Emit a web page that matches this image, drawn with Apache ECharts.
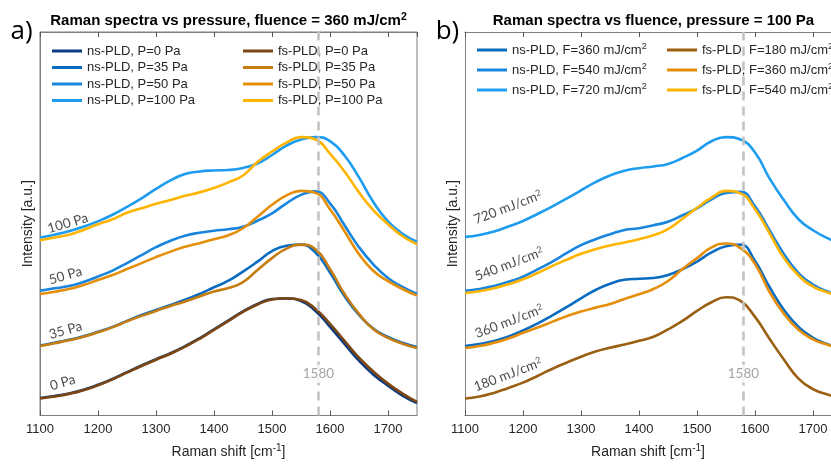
<!DOCTYPE html>
<html>
<head>
<meta charset="utf-8">
<script src="https://cdn.jsdelivr.net/npm/echarts@6/dist/echarts.min.js"></script>
<style>html,body{margin:0;padding:0;background:#fff}#main{width:831px;height:464px}</style>
</head>
<body>
<div id="main"></div>
<script>
// Raman shift sample points (cm-1), shared by every spectrum
var shift = [1100,1125,1150,1175,1200,1225,1250,1275,1300,1325,1350,1375,1400,1425,
             1450,1475,1500,1525,1550,1575,1600,1625,1650,1675,1700,1725,1750];

// panel a: fluence 360 mJ/cm2, different pressures (offset intensities, a.u.)
var nsP0   = [17.5,19.5,22,25.8,30.8,36.8,43.5,50.2,56.5,62.5,69.5,77.5,86.5,95.5,104.5,112,117,117.5,115,105,89,72,55,41,30,20,12.5];
var nsP35  = [70.3,73,76,79.5,84,89,95,101,106,111,116.3,122,128.7,135.3,144.5,154.5,165,170.5,171.5,163.5,143.5,120,101,87,79,73,68.7];
var nsP50  = [125.3,127.7,130,134,139.5,145.5,153,161,169,175.5,180.5,183.5,185.5,187,189.5,195.5,203,213,221.5,225,213,191,169,151.5,138,129,122];
var nsP100 = [178.7,181.5,185,189.5,195,201.5,209.5,218,227.5,236,242.5,245,246,246.5,248.5,253,261.5,271,277,279.5,275.5,261,239,214,195,182.5,174.5];
var fsP0   = [17,19,21.7,25.3,30.3,36.3,43,49.7,56,62,69,77,86,95,104,111.5,116.5,117.7,116,107,92,75,58,44,32,22,13.7];
var fsP35  = [69.7,72.5,75.5,79,83.5,88.5,94.5,100,105,110,114.5,119.5,124.5,128,134,146,158,167.5,171.5,167,147,122,102,86.5,78,72,67.7];
var fsP50  = [122,124.3,127,131,136,141,147,153,159,164.5,169.5,173,177,181,188,199.5,211.5,221,225.5,223.5,207,185,162,145,135,127,120.3];
var fsP100 = [176,178.7,181.5,186.3,192,197,203.5,208,212.5,216.3,220.5,224,228.5,234,241,254.5,265,274,279.5,277,263,245,224,206,192,180,172];

// panel b: pressure 100 Pa, different fluences
var nsF360 = [69.7,71.7,74.7,79.3,85.3,92.3,100.3,108.7,117.7,126,132.3,136.3,137.3,138,141,147,154.5,163.7,170,171.5,155,129,106,89,78,71.5,67];
var nsF540 = [125.3,127,130,134.3,139.3,146.7,154.3,163,171,177,182,186.3,188,191,194.5,201,208,217,223.5,224.5,210,186,162,143,131.5,124.5,120];
var nsF720 = [179.3,181.3,184.7,189.7,195.3,202.3,209.7,217.7,226,234.3,241,245.7,248.3,250,252.5,258.5,266,275.3,279.5,277,264,238,216,197,186,178,172];
var fsF180 = [17,19,22.7,27.7,33,39.7,46.7,53,59,64.3,68,71.3,75,79,86.5,95,105,113.7,118.7,115,99,77,56,37,26.5,21,17];
var fsF360 = [67.7,69.7,73,77.3,83,88.3,94,99.7,104.3,108.3,112,117,121.7,127,135,147,158,168.7,172.7,168,152,124,102,86,76.5,71,67];
var fsF540 = [123,124.7,127.7,131.7,136.7,143,150,156.3,162.3,167,170.7,173.7,177,181,187,197.5,208.5,218.7,225.5,223,207,183,158,140.5,129.5,123.5,119];

var namesNsA = ['ns-PLD, P=0 Pa','ns-PLD, P=35 Pa','ns-PLD, P=50 Pa','ns-PLD, P=100 Pa'];
var namesFsA = ['fs-PLD, P=0 Pa','fs-PLD, P=35 Pa','fs-PLD, P=50 Pa','fs-PLD, P=100 Pa'];
var namesNsB = ['ns-PLD, F=360 mJ/cm2','ns-PLD, F=540 mJ/cm2','ns-PLD, F=720 mJ/cm2'];
var namesFsB = ['fs-PLD, F=180 mJ/cm2','fs-PLD, F=360 mJ/cm2','fs-PLD, F=540 mJ/cm2'];

var curveLabelsA = ['100 Pa','50 Pa','35 Pa','0 Pa'];
var curveLabelAtA = [[1148,193],[1144,140.5],[1144,85.5],[1139,33]];
var curveLabelsB = ['720 mJ/cm2','540 mJ/cm2','360 mJ/cm2','180 mJ/cm2'];
var curveLabelAtB = [[1174,209],[1176,152],[1176,94.5],[1174,41]];

var gLine = 1580;
// panel b is cut by the right edge of the figure
var xMaxA = 1750, xMaxB = 1731;

var colNsA = ['#0b3b80','#0a6cc0','#1985dc','#1e9cf0'];
var colFsA = ['#7b4611','#c57d12','#e48e0a','#ffb400'];
var colNsB = ['#0a6cc0','#1985dc','#1e9cf0'];
var colFsB = ['#9a5f10','#e48e0a','#ffb400'];

var myChart = echarts.init(document.getElementById('main'));

function pts(arr){ return shift.map(function(x,i){ return [x, arr[i]]; }); }
function sup(s){ return s.replace('cm2','cm{s|2}'); }

var series = [];
function addCurve(name, arr, color, g){
    series.push({
        name: name, type: 'line', xAxisIndex: g*2, yAxisIndex: g,
        data: pts(arr), smooth: 0.5, showSymbol: false, symbol: 'none', clip: true,
        color: color, lineStyle: {color: color, width: 2.6}, z: 2
    });
}
var pairsA = [[nsP0,fsP0],[nsP35,fsP35],[nsP50,fsP50],[nsP100,fsP100]];
pairsA.forEach(function(p,i){
    addCurve(namesNsA[i], p[0], colNsA[i], 0);
    addCurve(namesFsA[i], p[1], colFsA[i], 0);
});
addCurve(namesFsB[0], fsF180, colFsB[0], 1);
addCurve(namesNsB[0], nsF360, colNsB[0], 1);
addCurve(namesFsB[1], fsF360, colFsB[1], 1);
addCurve(namesNsB[1], nsF540, colNsB[1], 1);
addCurve(namesFsB[2], fsF540, colFsB[2], 1);
addCurve(namesNsB[2], nsF720, colNsB[2], 1);

var supRich = {s: {fontSize: 9, lineHeight: 9, verticalAlign: 'top'}};

[0,1].forEach(function(g){
    // 1580 reference line
    series.push({
        type: 'line', xAxisIndex: g*2, yAxisIndex: g, data: [], z: 4, silent: true,
        markLine: {symbol: 'none', silent: true, label: {show: false},
            lineStyle: {color: '#c3c3c3', width: 2.6, type: [9,6]},
            data: [{xAxis: gLine}]}
    });
    series.push({
        type: 'scatter', xAxisIndex: g*2, yAxisIndex: g, z: 6, silent: true,
        symbolSize: 1, itemStyle: {color: 'transparent'},
        data: [{value: [gLine, 42], name: String(gLine)}],
        label: {show: true, position: 'inside', formatter: '{b}', color: '#8c8c8c',
            fontFamily: 'Lato', fontSize: 13.5, backgroundColor: '#fff', padding: [2,1]}
    });
    var labs = g === 0 ? curveLabelsA : curveLabelsB;
    var at = g === 0 ? curveLabelAtA : curveLabelAtB;
    series.push({
        type: 'scatter', xAxisIndex: g*2, yAxisIndex: g, z: 6, silent: true,
        symbolSize: 1, itemStyle: {color: 'transparent'},
        data: labs.map(function(n,i){ return {value: at[i], name: n}; }),
        label: {show: true, position: 'inside', rotate: g === 0 ? 16 : 21,
            formatter: function(p){ return sup(p.name); },
            color: '#1a1a1a', fontFamily: 'Lato', fontSize: 13.5,
            rich: {s: {fontSize: 9, lineHeight: 9, verticalAlign: 'top', fontFamily: 'Lato'}}}
    });
});

function legendCfg(names, left, top, gap){
    return {
        data: names, left: left, top: top, orient: 'vertical', icon: 'rect',
        itemWidth: 30, itemHeight: 3, itemGap: gap, padding: 0, selectedMode: false,
        formatter: sup,
        textStyle: {fontFamily: 'Liberation Sans', fontSize: 13, color: '#262626', lineHeight: 16, rich: supRich}
    };
}

var axisGray = '#7f7f7f';
function xAx(g, pos){
    var a = {
        gridIndex: g, type: 'value', min: 1100, max: g === 0 ? xMaxA : xMaxB, interval: 100, position: pos,
        axisLine: {show: true, lineStyle: {color: axisGray}},
        axisTick: {show: true, inside: true, length: 5, lineStyle: {color: '#555'}},
        splitLine: {show: false},
        axisLabel: {show: pos === 'bottom', color: '#262626', fontSize: 13, fontFamily: 'Liberation Sans',
            margin: 7, showMaxLabel: false, formatter: function(v){ return String(v); }}
    };
    if (pos === 'bottom') {
        a.name = '{n|Raman shift [cm}{s|-1}{n|]}';
        a.nameLocation = 'middle';
        a.nameGap = 28;
        a.nameTextStyle = {rich: {
            n: {fontSize: 14, fontFamily: 'Liberation Sans', color: '#262626', lineHeight: 17},
            s: {fontSize: 10, fontFamily: 'Liberation Sans', color: '#262626', lineHeight: 10, verticalAlign: 'top'}}};
    }
    return a;
}
function yAx(g){
    return {
        gridIndex: g, type: 'value', min: 0, max: 385,
        axisLine: {show: true, lineStyle: {color: axisGray}},
        axisTick: {show: false}, axisLabel: {show: false}, splitLine: {show: false},
        name: 'Intensity [a.u.]', nameLocation: 'middle', nameGap: 5,
        nameTextStyle: {fontSize: 14, fontFamily: 'Liberation Sans', color: '#262626'}
    };
}

var titleRich = {
    b: {fontSize: 15, fontWeight: 'bold', fontFamily: 'Liberation Sans', lineHeight: 18, fill: '#000'},
    s: {fontSize: 10.5, fontWeight: 'bold', fontFamily: 'Liberation Sans', lineHeight: 10, verticalAlign: 'top', fill: '#000'}
};
function txt(x, y, text, rich, font){
    var st = {text: text, x: 0, y: 0, fill: '#000', align: 'center', verticalAlign: 'middle',
        textAlign: 'center', textVerticalAlign: 'middle'};
    if (rich) st.rich = rich;
    if (font) st.font = font;
    return {type: 'text', x: x, y: y, style: st, silent: true};
}

var option = {
    backgroundColor: '#fff',
    animation: false,
    grid: [
        {left: 40, top: 32, width: 377, height: 385, show: true, borderColor: axisGray, borderWidth: 1},
        {left: 465, top: 32, width: 366, height: 385, show: false}
    ],
    xAxis: [xAx(0,'bottom'), xAx(0,'top'), xAx(1,'bottom'), xAx(1,'top')],
    yAxis: [yAx(0), yAx(1)],
    legend: [
        legendCfg(namesNsA, 52, 43, 0.5),
        legendCfg(namesFsA, 243, 43, 0.5),
        legendCfg(namesNsB, 477, 42, 4),
        legendCfg(namesFsB, 667, 42, 4)
    ],
    graphic: [
        txt(228.5, 21, '{b|Raman spectra vs pressure, fluence = 360 mJ/cm}{s|2}', titleRich),
        txt(653.5, 21, '{b|Raman spectra vs fluence, pressure = 100 Pa}', titleRich),
        txt(21.5, 32, 'a)', null, '26px "Open Sans"'),
        txt(447.5, 32, 'b)', null, '26px "Open Sans"')
    ],
    series: series
};

myChart.setOption(option);
</script>
</body>
</html>
